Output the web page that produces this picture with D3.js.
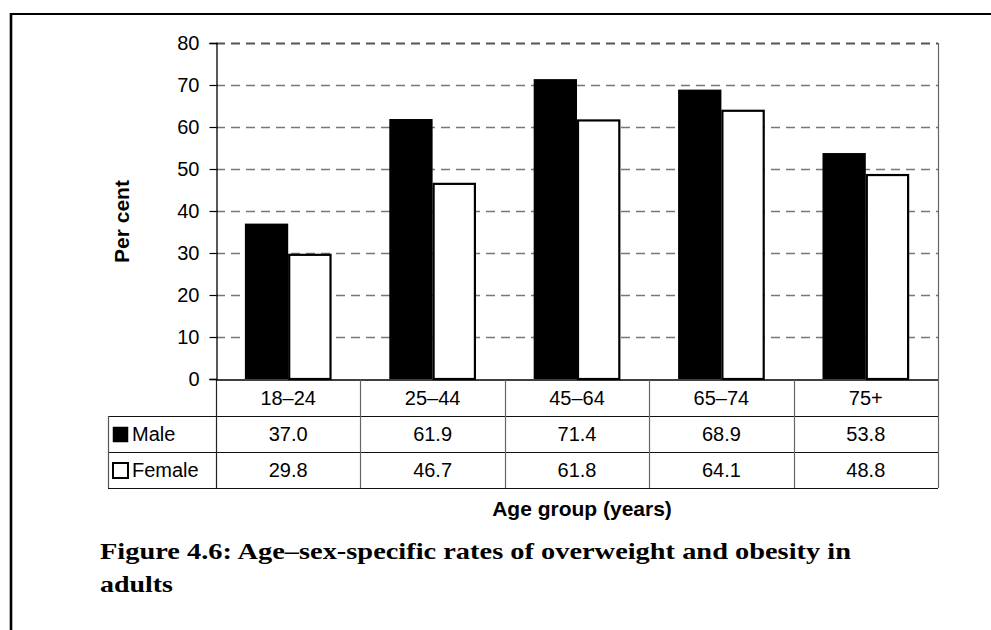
<!DOCTYPE html>
<html>
<head>
<meta charset="utf-8">
<script src="https://cdn.jsdelivr.net/npm/d3@7/dist/d3.min.js"></script>
<style>
  html, body { margin: 0; padding: 0; background: #fff; }
  svg { display: block; }
</style>
</head>
<body>
<svg id="chart" width="991" height="630"></svg>
<script>
// Age groups and rates (per cent) for each sex
const ageGroups = ["18–24", "25–44", "45–64", "65–74", "75+"];
const seriesNames = ["Male", "Female"];
const maleValues = [37.0, 61.9, 71.4, 68.9, 53.8];
const femaleValues = [29.8, 46.7, 61.8, 64.1, 48.8];
const yTicks = [0, 10, 20, 30, 40, 50, 60, 70, 80];

const seriesValues = { Male: maleValues, Female: femaleValues };
const seriesFill = { Male: "#000", Female: "#fff" };

const svg = d3.select("#chart");
const sans = "'Liberation Sans', Arial, sans-serif";
const serif = "'Liberation Serif', 'Times New Roman', serif";
const bodySize = 20;

// Plot area and data-table geometry
const plot = { left: 216, right: 938, top: 43, bottom: 380 };
const tableLeft = 108;
const rowH = 36;

const x = d3.scaleBand().domain(ageGroups).range([plot.left, plot.right]).padding(0);
const xs = d3.scaleBand().domain(seriesNames).range([0, x.bandwidth()])
  .paddingInner(0).paddingOuter(0.667);
const y = d3.scaleLinear().domain([0, 80]).range([plot.bottom - 1, plot.top]);

// Outer figure frame (top and left rules)
svg.append("line").attr("x1", 10).attr("x2", 991).attr("y1", 14).attr("y2", 14)
  .attr("stroke", "#000").attr("stroke-width", 2.2);
svg.append("line").attr("x1", 11).attr("x2", 11).attr("y1", 13).attr("y2", 630)
  .attr("stroke", "#000").attr("stroke-width", 2.6);

// Dashed horizontal gridlines
svg.append("g").selectAll("line").data(yTicks.filter(d => d > 0)).join("line")
  .attr("x1", plot.left).attr("x2", plot.right)
  .attr("y1", d => Math.round(y(d)) + 0.5).attr("y2", d => Math.round(y(d)) + 0.5)
  .attr("stroke", d => d === 80 ? "#555" : "#777")
  .attr("stroke-width", d => d === 80 ? 2 : 1.5)
  .attr("stroke-dasharray", "9,6");

// Right edge of the plot area, continuing through the table
svg.append("line").attr("x1", plot.right + 0.5).attr("x2", plot.right + 0.5)
  .attr("y1", plot.top).attr("y2", plot.bottom + 3 * rowH)
  .attr("stroke", "#666").attr("stroke-width", 1.2);

// Bars
const groups = svg.append("g").selectAll("g").data(ageGroups).join("g")
  .attr("transform", d => `translate(${x(d)},0)`);
groups.selectAll("rect")
  .data((d, i) => seriesNames.map(s => ({ s, v: seriesValues[s][i] })))
  .join("rect")
  .attr("x", d => xs(d.s) + (d.s === "Female" ? 1 : 0))
  .attr("width", d => xs.bandwidth() - (d.s === "Female" ? 2 : 0))
  .attr("y", d => y(d.v) + (d.s === "Female" ? 1 : 0))
  .attr("height", d => y(0) - y(d.v) - (d.s === "Female" ? 1 : 0))
  .attr("fill", d => seriesFill[d.s])
  .attr("stroke", d => d.s === "Female" ? "#000" : "none")
  .attr("stroke-width", 2.2);

// Y axis
const yAxis = svg.append("g").attr("transform", `translate(${plot.left + 0.5},0)`)
  .call(d3.axisLeft(y).tickValues(yTicks).tickSize(7).tickPadding(10).tickFormat(d3.format("d")));
yAxis.select(".domain").attr("stroke", "#000").attr("stroke-width", 1.3);
yAxis.selectAll(".tick line").attr("stroke", "#000").attr("stroke-width", 1.2);
yAxis.selectAll(".tick text").attr("font-family", sans).attr("font-size", bodySize).attr("fill", "#000");

// Data table below the plot
const table = svg.append("g");
// horizontal rules
table.append("line").attr("x1", plot.left).attr("x2", plot.right)
  .attr("y1", plot.bottom).attr("y2", plot.bottom).attr("stroke", "#000").attr("stroke-width", 1.3);
[1, 2, 3].forEach(r => {
  table.append("line").attr("x1", tableLeft).attr("x2", plot.right)
    .attr("y1", plot.bottom + r * rowH + 0.5).attr("y2", plot.bottom + r * rowH + 0.5)
    .attr("stroke", "#111").attr("stroke-width", 1.2);
});
// vertical rules
table.append("line").attr("x1", tableLeft + 0.5).attr("x2", tableLeft + 0.5)
  .attr("y1", plot.bottom + rowH).attr("y2", plot.bottom + 3 * rowH)
  .attr("stroke", "#555").attr("stroke-width", 1.2);
table.selectAll("line.col").data(ageGroups).join("line").attr("class", "col")
  .attr("x1", d => Math.round(x(d)) + 0.5).attr("x2", d => Math.round(x(d)) + 0.5)
  .attr("y1", plot.bottom).attr("y2", plot.bottom + 3 * rowH)
  .attr("stroke", (d, i) => i === 0 ? "#222" : "#666").attr("stroke-width", 1.2);

// header row: age groups
table.selectAll("text.cat").data(ageGroups).join("text").attr("class", "cat")
  .attr("x", d => x(d) + x.bandwidth() / 2)
  .attr("y", plot.bottom + rowH / 2)
  .attr("dy", "0.35em").attr("text-anchor", "middle")
  .attr("font-family", sans).attr("font-size", bodySize).text(d => d);

// value rows with legend keys
seriesNames.forEach((s, r) => {
  const cy = plot.bottom + (r + 1) * rowH + rowH / 2;
  table.append("rect")
    .attr("x", 113).attr("y", cy - 7).attr("width", 15).attr("height", 15)
    .attr("fill", seriesFill[s])
    .attr("stroke", "#000").attr("stroke-width", s === "Female" ? 2 : 0.5);
  table.append("text").attr("x", 132).attr("y", cy).attr("dy", "0.35em")
    .attr("font-family", sans).attr("font-size", bodySize).text(s);
  table.selectAll(`text.v${r}`).data(seriesValues[s]).join("text").attr("class", `v${r}`)
    .attr("x", (d, i) => x(ageGroups[i]) + x.bandwidth() / 2)
    .attr("y", cy).attr("dy", "0.35em").attr("text-anchor", "middle")
    .attr("font-family", sans).attr("font-size", bodySize)
    .text(d => d3.format(".1f")(d));
});

// Axis titles
svg.append("text")
  .attr("transform", `translate(129,${(plot.top + plot.bottom) / 2 + 10}) rotate(-90)`)
  .attr("text-anchor", "middle")
  .attr("font-family", sans).attr("font-weight", "bold").attr("font-size", 21)
  .text("Per cent");
svg.append("text").attr("x", 582).attr("y", 516).attr("text-anchor", "middle")
  .attr("font-family", sans).attr("font-weight", "bold").attr("font-size", 21)
  .text("Age group (years)");

// Figure caption
svg.append("text").attr("x", 100).attr("y", 559)
  .attr("font-family", serif).attr("font-weight", "bold").attr("font-size", 22.5)
  .attr("textLength", 751).attr("lengthAdjust", "spacingAndGlyphs")
  .text("Figure 4.6: Age–sex-specific rates of overweight and obesity in");
svg.append("text").attr("x", 100).attr("y", 592)
  .attr("font-family", serif).attr("font-weight", "bold").attr("font-size", 22.5)
  .attr("textLength", 73).attr("lengthAdjust", "spacingAndGlyphs")
  .text("adults");
</script>
</body>
</html>
